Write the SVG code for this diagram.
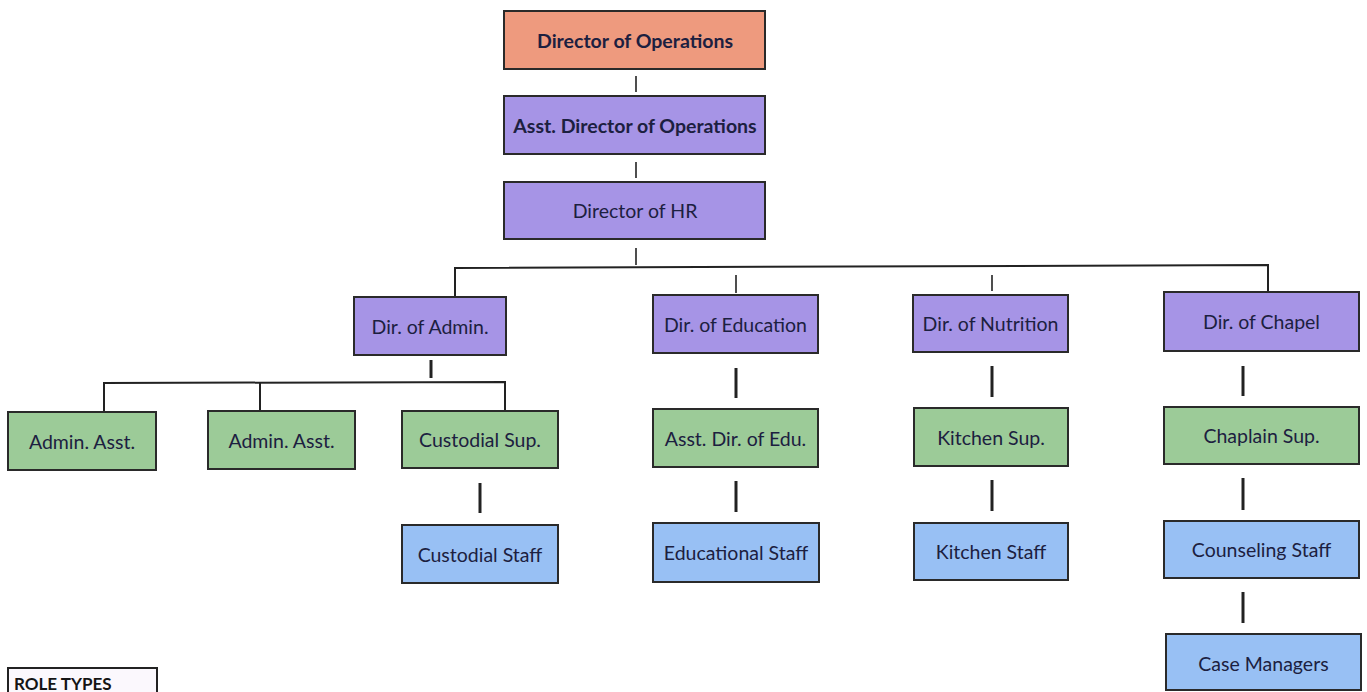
<svg xmlns="http://www.w3.org/2000/svg" width="1367" height="692" viewBox="0 0 1367 692">
<style>
.box{stroke:#2a2a2a;stroke-width:2}
.o{fill:#EE9A7E}.p{fill:#A694E6}.g{fill:#9CCB98}.b{fill:#98C0F4}
.t{font-family:Lato,"Open Sans","Liberation Sans",sans-serif;font-size:19.5px;fill:#1c2040;text-anchor:middle;dominant-baseline:central}
.bold{font-weight:bold;font-size:19.5px}
.ln{stroke:#222;stroke-width:2;fill:none}
.stub{stroke:#222;stroke-width:1.6}
.thick{stroke:#222;stroke-width:3}
</style>
<rect width="1367" height="692" fill="#ffffff"/>
<g id="connectors">
<line class="stub" x1="636" y1="76" x2="636" y2="92"/>
<line class="stub" x1="636" y1="162" x2="636" y2="178"/>
<line class="stub" x1="636" y1="248" x2="636" y2="265"/>
<polyline class="ln" points="455,297 455,268 1268,265 1268,293"/>
<line class="stub" x1="736" y1="275" x2="736" y2="293"/>
<line class="stub" x1="992" y1="275" x2="992" y2="291"/>
<line class="thick" x1="431" y1="360" x2="431" y2="378"/>
<polyline class="ln" points="104,412 104,383 505,382 505,411"/>
<line class="ln" x1="260" y1="383" x2="260" y2="411"/>
<line class="thick" x1="480" y1="483" x2="480" y2="513"/>
<line class="thick" x1="736" y1="368" x2="736" y2="398"/>
<line class="thick" x1="736" y1="481" x2="736" y2="512"/>
<line class="thick" x1="992" y1="366" x2="992" y2="397"/>
<line class="thick" x1="992" y1="480" x2="992" y2="511"/>
<line class="thick" x1="1243" y1="366" x2="1243" y2="396"/>
<line class="thick" x1="1243" y1="478" x2="1243" y2="510"/>
<line class="thick" x1="1243" y1="592" x2="1243" y2="623"/>
</g>
<g id="n-director-ops"><rect class="box o" x="504" y="11" width="261" height="58"/><text class="t bold" x="635" y="40">Director of Operations</text></g>
<g id="n-asst-director-ops"><rect class="box p" x="504" y="96" width="261" height="58"/><text class="t bold" x="635" y="125">Asst. Director of Operations</text></g>
<g id="n-director-hr"><rect class="box p" x="504" y="182" width="261" height="57"/><text class="t" x="635" y="210.5">Director of HR</text></g>
<g id="n-dir-admin"><rect class="box p" x="354" y="297" width="152" height="58"/><text class="t" x="430" y="326">Dir. of Admin.</text></g>
<g id="n-dir-education"><rect class="box p" x="653" y="295" width="165" height="58"/><text class="t" x="735.5" y="324">Dir. of Education</text></g>
<g id="n-dir-nutrition"><rect class="box p" x="913" y="295" width="155" height="57"/><text class="t" x="990.5" y="323.5">Dir. of Nutrition</text></g>
<g id="n-dir-chapel"><rect class="box p" x="1164" y="292" width="195" height="59"/><text class="t" x="1261.5" y="321.5">Dir. of Chapel</text></g>
<g id="n-admin-asst-1"><rect class="box g" x="8" y="412" width="148" height="58"/><text class="t" x="82" y="441">Admin. Asst.</text></g>
<g id="n-admin-asst-2"><rect class="box g" x="208" y="411" width="147" height="58"/><text class="t" x="281.5" y="440">Admin. Asst.</text></g>
<g id="n-custodial-sup"><rect class="box g" x="402" y="411" width="156" height="57"/><text class="t" x="480" y="439.5">Custodial Sup.</text></g>
<g id="n-asst-dir-edu"><rect class="box g" x="653" y="409" width="165" height="58"/><text class="t" x="735.5" y="438">Asst. Dir. of Edu.</text></g>
<g id="n-kitchen-sup"><rect class="box g" x="914" y="408" width="154" height="58"/><text class="t" x="991" y="437">Kitchen Sup.</text></g>
<g id="n-chaplain-sup"><rect class="box g" x="1164" y="407" width="195" height="57"/><text class="t" x="1261.5" y="435.5">Chaplain Sup.</text></g>
<g id="n-custodial-staff"><rect class="box b" x="402" y="525" width="156" height="58"/><text class="t" x="480" y="554">Custodial Staff</text></g>
<g id="n-educational-staff"><rect class="box b" x="653" y="523" width="166" height="59"/><text class="t" x="736" y="552.5">Educational Staff</text></g>
<g id="n-kitchen-staff"><rect class="box b" x="914" y="523" width="154" height="57"/><text class="t" x="991" y="551.5">Kitchen Staff</text></g>
<g id="n-counseling-staff"><rect class="box b" x="1164" y="521" width="195" height="57"/><text class="t" x="1261.5" y="549.5">Counseling Staff</text></g>
<g id="n-case-managers"><rect class="box b" x="1166" y="634" width="195" height="56"/><text class="t" x="1263.5" y="663">Case Managers</text></g>
<g id="legend"><rect x="8" y="668" width="149" height="30" fill="#fbf8fd" stroke="#222" stroke-width="2"/><text x="14" y="690" font-family="Lato,'Open Sans','Liberation Sans',sans-serif" font-size="17" font-weight="bold" fill="#151515">ROLE TYPES</text></g>
</svg>
